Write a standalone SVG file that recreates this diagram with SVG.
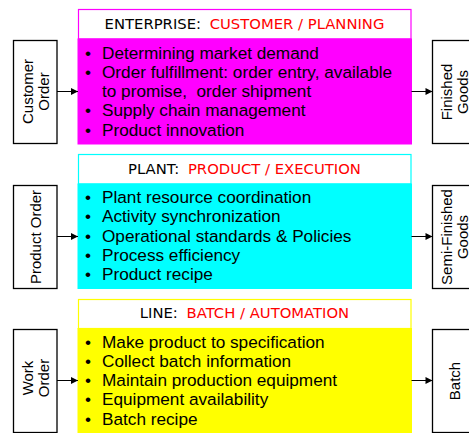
<svg xmlns="http://www.w3.org/2000/svg" width="469" height="433" viewBox="0 0 469 433">
<style>
.bg{fill:#ffffff}
.hdr{fill:#ffffff;stroke-width:1.2}
.body{stroke-width:1}
.ttl{font-family:"DejaVu Sans",Verdana,sans-serif;font-size:14.8px;fill:#000000;text-anchor:middle}
.red{fill:#ff0000}
.li{font-family:"Liberation Sans",Arial,sans-serif;font-size:17.2px;fill:#000000}
.box{fill:#ffffff;stroke:#000000;stroke-width:1.3}
.rt{font-family:"Liberation Sans",Arial,sans-serif;font-size:15px;fill:#000000;text-anchor:middle}
.conn{stroke:#000000;stroke-width:1;fill:none;marker-end:url(#ah)}
</style>
<defs>
<marker id="ah" viewBox="0 0 10 10" refX="10" refY="5" markerWidth="10" markerHeight="7" markerUnits="userSpaceOnUse" orient="auto">
<path d="M0,0 L10,5 L0,10 z" fill="#000000"/>
</marker>
</defs>
<rect class="bg" x="0" y="0" width="469" height="433"/>

<g id="enterprise">
<rect class="hdr" x="78.5" y="9.5" width="332.5" height="29.5" stroke="#ff00ff"/>
<rect class="body" x="78" y="39" width="333.5" height="105" fill="#ff00ff" stroke="#ff00ff"/>
<text class="ttl" x="244.5" y="29">ENTERPRISE: <tspan class="red" dx="4">CUSTOMER / PLANNING</tspan></text>
<text class="li" x="85" y="58.5">•</text>
<text class="li" x="102" y="58.5">Determining market demand</text>
<text class="li" x="85" y="77.8">•</text>
<text class="li" x="102" y="77.8">Order fulfillment: order entry, available</text>
<text class="li" x="102" y="97.1">to promise,&#160; order shipment</text>
<text class="li" x="85" y="116.4">•</text>
<text class="li" x="102" y="116.4">Supply chain management</text>
<text class="li" x="85" y="135.7">•</text>
<text class="li" x="102" y="135.7">Product innovation</text>
</g>

<g id="plant">
<rect class="hdr" x="78.5" y="154.5" width="332.5" height="29.5" stroke="#00ffff"/>
<rect class="body" x="78" y="184" width="333.5" height="104.5" fill="#00ffff" stroke="#00ffff"/>
<text class="ttl" x="244.5" y="174">PLANT: <tspan class="red" dx="4">PRODUCT / EXECUTION</tspan></text>
<text class="li" x="85" y="203">•</text>
<text class="li" x="102" y="203">Plant resource coordination</text>
<text class="li" x="85" y="222.3">•</text>
<text class="li" x="102" y="222.3">Activity synchronization</text>
<text class="li" x="85" y="241.6">•</text>
<text class="li" x="102" y="241.6">Operational standards &amp; Policies</text>
<text class="li" x="85" y="260.9">•</text>
<text class="li" x="102" y="260.9">Process efficiency</text>
<text class="li" x="85" y="280.2">•</text>
<text class="li" x="102" y="280.2">Product recipe</text>
</g>

<g id="line">
<rect class="hdr" x="78.5" y="299.5" width="332.5" height="29" stroke="#ffff00"/>
<rect class="body" x="78" y="328.5" width="333.5" height="106" fill="#ffff00" stroke="#ffff00"/>
<text class="ttl" x="244.5" y="318">LINE: <tspan class="red" dx="4">BATCH / AUTOMATION</tspan></text>
<text class="li" x="85" y="347.5">•</text>
<text class="li" x="102" y="347.5">Make product to specification</text>
<text class="li" x="85" y="366.8">•</text>
<text class="li" x="102" y="366.8">Collect batch information</text>
<text class="li" x="85" y="386.1">•</text>
<text class="li" x="102" y="386.1">Maintain production equipment</text>
<text class="li" x="85" y="405.4">•</text>
<text class="li" x="102" y="405.4">Equipment availability</text>
<text class="li" x="85" y="424.7">•</text>
<text class="li" x="102" y="424.7">Batch recipe</text>
</g>

<g id="customer-order">
<rect class="box" x="13.5" y="40.5" width="43.5" height="103"/>
<text class="rt" transform="translate(32.5,91.5) rotate(-90)">Customer</text>
<text class="rt" transform="translate(48.5,91.5) rotate(-90)">Order</text>
</g>
<g id="product-order">
<rect class="box" x="13.5" y="185.5" width="43.5" height="103"/>
<text class="rt" transform="translate(40.5,237) rotate(-90)">Product Order</text>
</g>
<g id="work-order">
<rect class="box" x="13.5" y="329.5" width="43.5" height="103"/>
<text class="rt" transform="translate(32.5,378) rotate(-90)">Work</text>
<text class="rt" transform="translate(48.5,378) rotate(-90)">Order</text>
</g>
<g id="finished-goods">
<rect class="box" x="432.5" y="40.5" width="44" height="103"/>
<text class="rt" transform="translate(451.5,92) rotate(-90)">Finished</text>
<text class="rt" transform="translate(467.5,92) rotate(-90)">Goods</text>
</g>
<g id="semi-finished-goods">
<rect class="box" x="432.5" y="185.5" width="44" height="103"/>
<text class="rt" transform="translate(451.5,237) rotate(-90)">Semi-Finished</text>
<text class="rt" transform="translate(467.5,237) rotate(-90)">Goods</text>
</g>
<g id="batch">
<rect class="box" x="432.5" y="329.5" width="44" height="103"/>
<text class="rt" transform="translate(460,381) rotate(-90)">Batch</text>
</g>

<g id="connectors">
<line class="conn" x1="57" y1="91.5" x2="78" y2="91.5"/>
<line class="conn" x1="57" y1="236.5" x2="78" y2="236.5"/>
<line class="conn" x1="57" y1="380.5" x2="78" y2="380.5"/>
<line class="conn" x1="411.5" y1="91.5" x2="432.5" y2="91.5"/>
<line class="conn" x1="411.5" y1="236.5" x2="432.5" y2="236.5"/>
<line class="conn" x1="411.5" y1="380.5" x2="432.5" y2="380.5"/>
</g>
</svg>
